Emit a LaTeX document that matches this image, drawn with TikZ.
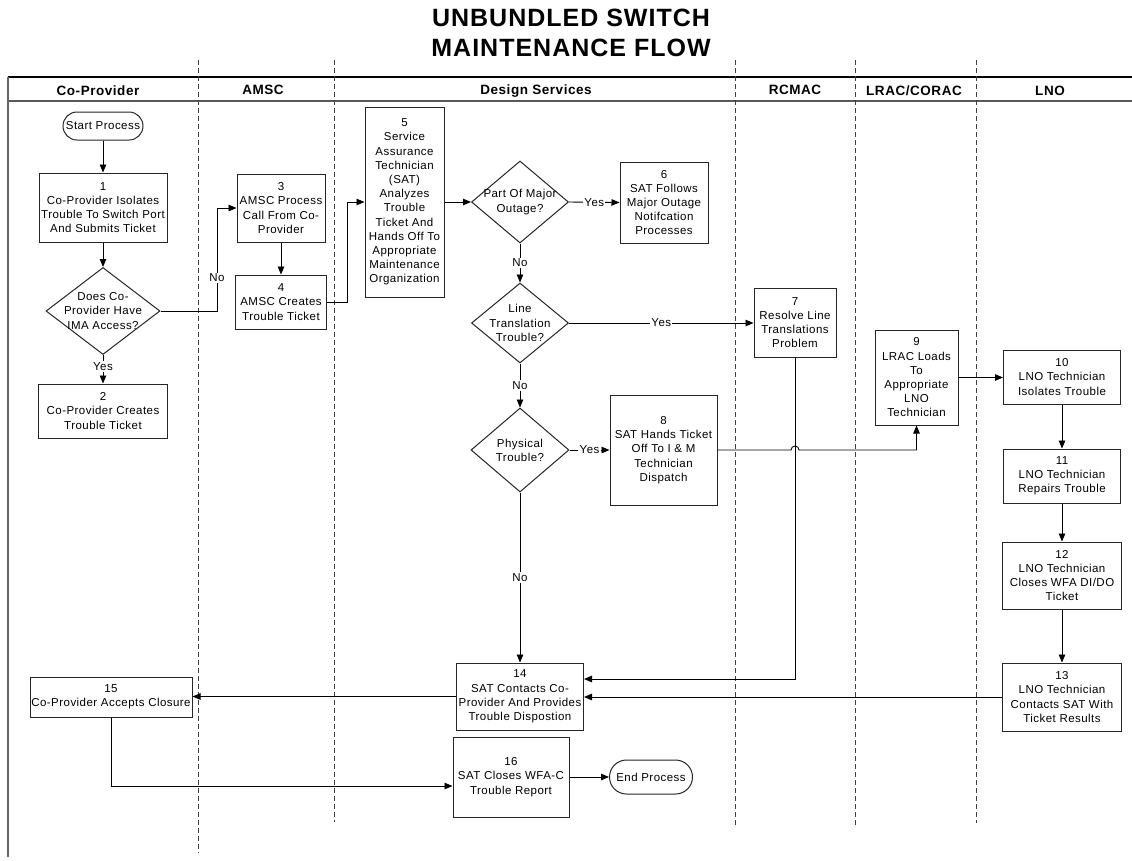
\documentclass[tikz,border=0pt]{standalone}
\usepackage{fontspec}
\setmainfont{Liberation Sans}[LetterSpace=4]
\usetikzlibrary{arrows.meta,shapes.geometric,calc}

\tikzset{
  flow/.style={draw=black!85, line width=1pt, fill=white, inner sep=0pt},
  txt/.style={align=center, inner sep=0pt, font=\fontsize{11.5}{14.2}\selectfont},
  decision/.style={diamond, draw=black!85, line width=1pt, fill=white, inner sep=0pt},
  terminal/.style={draw=black!85, line width=1pt, fill=white, rounded corners=14pt, inner sep=0pt},
  conn/.style={draw=black, line width=0.9pt, -{Triangle[length=8pt,width=6.5pt]}},
  tag/.style={fill=white, inner sep=1.2pt, font=\fontsize{11.5}{14.2}\selectfont},
  lane/.style={draw=black!75, line width=0.9pt, dash pattern=on 5pt off 3pt},
  head/.style={font=\bfseries\fontsize{13.5}{16}\selectfont, inner sep=0pt},
}

% process box: name, x, y, width, height, text
\newcommand\procbox[6]{%
  \node[flow, minimum width=#4pt, minimum height=#5pt] (#1) at (#2,#3) {};
  \node[txt] (#1t) at (#1.center) {#6};}
% decision: name, x, y, width, height, text
\newcommand\decbox[6]{%
  \node[decision, minimum width=#4pt, minimum height=#5pt] (#1) at (#2,#3) {};
  \node[txt] (#1t) at (#1.center) {#6};}

\begin{document}
\begin{tikzpicture}[x=1pt,y=-1pt]
\useasboundingbox (0,0) rectangle (1132,860);

% title
\node[align=center, inner sep=0pt, font=\bfseries\fontsize{25}{30}\selectfont] (title) at (571,33)
  {UNBUNDLED SWITCH\\MAINTENANCE FLOW};

% swimlane frame
\draw[line width=1.3pt, black] (8,77) -- (1132,77);
\draw[line width=1.8pt, black!65] (8,101) -- (1132,101);
\draw[line width=1.8pt, black!60] (8,77) -- (8,857);
\draw[lane] (198,60) -- (198,853);
\draw[lane] (334,60) -- (334,822);
\draw[lane] (735,60) -- (735,827);
\draw[lane] (855,60) -- (855,827);
\draw[lane] (976,60) -- (976,823);

% lane headings
\node[head] (h1) at (98,91) {Co-Provider};
\node[head] (h2) at (263,90) {AMSC};
\node[head] (h3) at (536,91) {Design Services};
\node[head] (h4) at (795,90) {RCMAC};
\node[head] (h5) at (914,91) {LRAC/CORAC};
\node[head] (h6) at (1050,91) {LNO};

% terminals
\node[terminal, minimum width=80pt, minimum height=28pt] (start) at (103,126) {};
\node[txt] (startt) at (start.center) {Start Process};
\node[terminal, minimum width=83pt, minimum height=34pt, rounded corners=17pt] (stop) at (651,777) {};
\node[txt] (stopt) at (stop.center) {End Process};

% process steps
\procbox{b1}{103}{207.5}{128}{69}{1\\Co-Provider Isolates\\Trouble To Switch Port\\And Submits Ticket}
\procbox{b2}{103}{411}{129}{54}{2\\Co-Provider Creates\\Trouble Ticket}
\procbox{b3}{281}{208}{88}{68}{3\\AMSC Process\\Call From Co-\\Provider}
\procbox{b4}{281}{302}{91}{54}{4\\AMSC Creates\\Trouble Ticket}
\procbox{b5}{404.5}{202}{79}{190}{5\\Service\\Assurance\\Technician\\(SAT)\\Analyzes\\Trouble\\Ticket And\\Hands Off To\\Appropriate\\Maintenance\\Organization}
\procbox{b6}{664}{202.5}{88}{81}{6\\SAT Follows\\Major Outage\\Notifcation\\Processes}
\procbox{b7}{795}{322.5}{82}{69}{7\\Resolve Line\\Translations\\Problem}
\procbox{b8}{663.5}{450}{107}{110}{8\\SAT Hands Ticket\\Off To I \& M\\Technician\\Dispatch}
\procbox{b9}{916.5}{377.5}{83}{95}{9\\LRAC Loads\\To\\Appropriate\\LNO\\Technician}
\procbox{b10}{1062}{377}{117}{54}{10\\LNO Technician\\Isolates Trouble}
\procbox{b11}{1062}{476}{117}{54}{11\\LNO Technician\\Repairs Trouble}
\procbox{b12}{1062}{575.5}{119}{67}{12\\LNO Technician\\Closes WFA DI/DO\\Ticket}
\procbox{b13}{1062}{697}{119}{68}{13\\LNO Technician\\Contacts SAT With\\Ticket Results}
\procbox{b14}{520}{696.5}{127}{67}{14\\SAT Contacts Co-\\Provider And Provides\\Trouble Dispostion}
\procbox{b15}{111}{697}{162}{40}{15\\Co-Provider Accepts Closure}
\procbox{b16}{511}{777}{116}{80}{16\\SAT Closes WFA-C\\Trouble Report}

% decisions
\decbox{d1}{103}{311}{114}{87}{Does Co-\\Provider Have\\IMA Access?}
\decbox{d2}{520}{202}{97}{82}{Part Of Major\\Outage?}
\decbox{d3}{520}{323}{97}{80}{Line\\Translation\\Trouble?}
\decbox{d4}{520}{450}{98}{84}{Physical\\Trouble?}

% routing points
\coordinate (nox) at (217,0);
\coordinate (jx) at (347,0);

% connectors
\draw[conn] (start.south) -- (b1.north);
\draw[conn] (b1.south) -- (d1.north);
\draw[conn] (d1.south) -- node[tag, pos=0.4] {Yes} (b2.north);
\draw[conn] (d1.east) -- (d1.east -| nox) |- node[tag, pos=0.16] {No} (b3.west);
\draw[conn] (b3.south) -- (b4.north);
\draw[conn] (b4.east) -- (b4.east -| jx) |- (b5.west);
\draw[conn] (b5.east) -- (d2.west);
\draw[conn] (d2.east) -- node[tag] {Yes} (b6.west);
\draw[conn] (d2.south) -- node[tag] {No} (d3.north);
\draw[conn] (d3.east) -- node[tag] {Yes} (d3.east -| b7.west);
\draw[conn] (d3.south) -- node[tag] {No} (d4.north);
\draw[conn] (d4.east) -- node[tag] {Yes} (b8.west);
\draw[conn] (b8.east) -- ($(b8.east -| b7.south)+(-4,0)$)
  arc[start angle=180, end angle=0, radius=4pt]
  -- (b8.east -| b9.south) -- (b9.south);
\draw[conn] (b9.east) -- (b9.east -| b10.west);
\draw[conn] (b10.south) -- (b11.north);
\draw[conn] (b11.south) -- (b12.north);
\draw[conn] (b12.south) -- (b13.north);
\draw[conn] (b7.south) |- ($(b14.east)+(0,-17.5)$);
\draw[conn] (b13.west) -- (b13.west -| b14.east);
\draw[conn] (d4.south) -- node[tag] {No} (b14.north);
\draw[conn] (b14.west) -- (b14.west -| b15.east);
\draw[conn] (b15.south) |- ($(b16.west)+(0,9)$);
\draw[conn] (b16.east) -- (stop.west);
\end{tikzpicture}
\end{document}
